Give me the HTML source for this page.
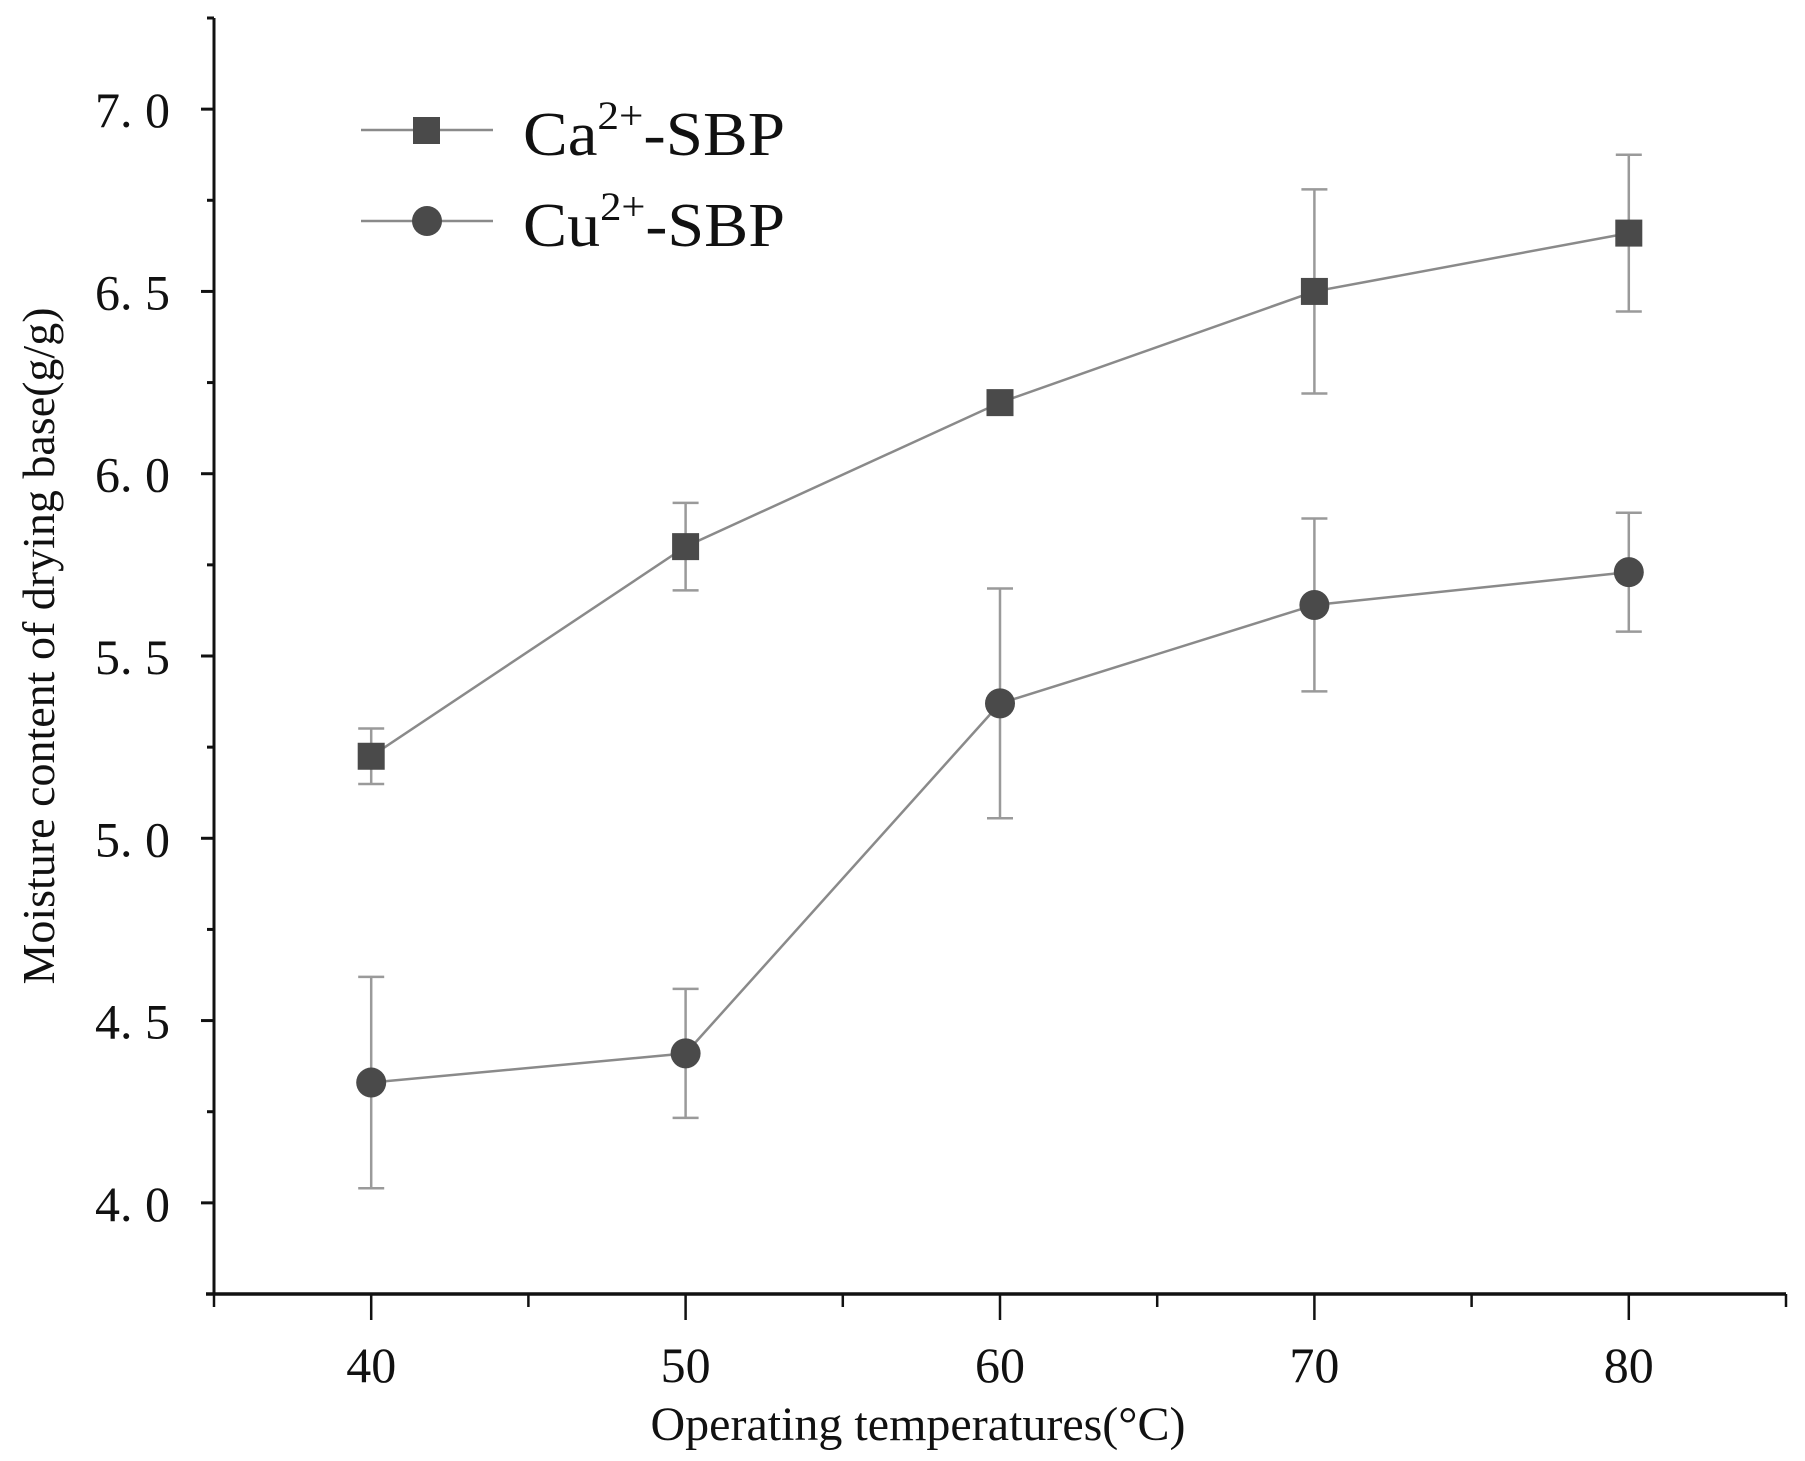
<!DOCTYPE html>
<html><head><meta charset="utf-8"><style>
html,body{margin:0;padding:0;background:#fff;}
svg{display:block;}
text{font-family:"Liberation Serif",serif;fill:#111;}
</style></head><body>
<svg id="chart" width="1805" height="1461" viewBox="0 0 1805 1461" xmlns="http://www.w3.org/2000/svg">
<g id="axes"></g>
<g id="series"></g>
<g id="legend">
  <line x1="361" y1="130" x2="493" y2="130" stroke="#8a8a8a" stroke-width="2.5"/>
  <rect x="413" y="117" width="27" height="27" fill="#4a4a4a"/>
  <text x="523" y="155" font-size="62" textLength="262" lengthAdjust="spacingAndGlyphs">Ca<tspan font-size="40" dy="-26">2+</tspan><tspan dy="26">-SBP</tspan></text>
  <line x1="361" y1="221" x2="493" y2="221" stroke="#8a8a8a" stroke-width="2.5"/>
  <circle cx="427" cy="221" r="15" fill="#4a4a4a"/>
  <text x="523" y="246" font-size="62" textLength="262" lengthAdjust="spacingAndGlyphs">Cu<tspan font-size="40" dy="-26">2+</tspan><tspan dy="26">-SBP</tspan></text>
</g>
<text x="918" y="1440" font-size="48" text-anchor="middle">Operating temperatures(°C)</text>
<text transform="translate(54,646) rotate(-90)" font-size="46" text-anchor="middle">Moisture content of drying base(g/g)</text>
</svg>
<script>
const categories = [40, 50, 60, 70, 80];
const caValues = [5.225, 5.80, 6.195, 6.50, 6.66];
const caErrors = [0.076, 0.12, 0.0, 0.28, 0.215];
const cuValues = [4.33, 4.41, 5.37, 5.64, 5.73];
const cuErrors = [0.29, 0.177, 0.315, 0.237, 0.163];
const yTicks = [4.0, 4.5, 5.0, 5.5, 6.0, 6.5, 7.0];
const yTickLabels = ["4. 0", "4. 5", "5. 0", "5. 5", "6. 0", "6. 5", "7. 0"];
const xTicks = [40, 50, 60, 70, 80];

const NS = "http://www.w3.org/2000/svg";
const X0 = 214, X1 = 1786, XMIN = 35, XMAX = 85;
const YB = 1294, YT = 18, YMIN = 3.75, YMAX = 7.25;
function sx(v){ return X0 + (v - XMIN) / (XMAX - XMIN) * (X1 - X0); }
function sy(v){ return YB - (v - YMIN) / (YMAX - YMIN) * (YB - YT); }
function mk(tag, attrs, parent){
  const e = document.createElementNS(NS, tag);
  for (const k in attrs) e.setAttribute(k, attrs[k]);
  parent.appendChild(e);
  return e;
}
const axes = document.getElementById('axes');
let el;
el = mk('line', {x1: X0, y1: YT, x2: X0, y2: YB, stroke: '#111', 'stroke-width': 3}, axes);


el = mk('line', {x1: X0 - 8, y1: YB, x2: X1, y2: YB, stroke: '#111', 'stroke-width': 3.5}, axes);


for (let v = YMIN; v <= YMAX + 1e-9; v += 0.25) {
  const major = Math.abs(v * 2 - Math.round(v * 2)) < 1e-6;
  el = mk('line', {x1: X0 - (major ? 13 : 7), y1: sy(v), x2: X0, y2: sy(v), stroke: '#111', 'stroke-width': 3}, axes);
  
  
}
yTicks.forEach((v, i) => {
  el = mk('text', {x: 170, y: sy(v) + 18, 'font-size': 50, 'text-anchor': 'end'}, axes);
  el.textContent = yTickLabels[i];
  
  
});
for (let v = XMIN; v <= XMAX; v += 5) {
  const major = v % 10 === 0;
  el = mk('line', {x1: sx(v), y1: YB, x2: sx(v), y2: YB + (major ? 26 : 13), stroke: '#111', 'stroke-width': 2.5}, axes);
  
  
}
xTicks.forEach(v => {
  el = mk('text', {x: sx(v), y: 1382, 'font-size': 50, 'text-anchor': 'middle'}, axes);
  el.textContent = String(v);
  
  
});
const series = document.getElementById('series');
function drawSeries(vals, errs, name, shape){
  const g = mk('g', {}, series);
  
  
  const pts = vals.map((v, i) => sx(categories[i]) + ',' + sy(v)).join(' ');
  el = mk('polyline', {points: pts, fill: 'none', stroke: '#8a8a8a', 'stroke-width': 2.5}, g);
  
  
  vals.forEach((v, i) => {
    const x = sx(categories[i]), e = errs[i];
    if (e > 0) {
      const eg = mk('g', {stroke: '#9a9a9a', 'stroke-width': 2.5}, g);
      
      
      mk('line', {x1: x, y1: sy(v + e), x2: x, y2: sy(v - e)}, eg);
      mk('line', {x1: x - 13, y1: sy(v + e), x2: x + 13, y2: sy(v + e)}, eg);
      mk('line', {x1: x - 13, y1: sy(v - e), x2: x + 13, y2: sy(v - e)}, eg);
    }
  });
  vals.forEach((v, i) => {
    const x = sx(categories[i]);
    if (shape === 'square') el = mk('rect', {x: x - 13.5, y: sy(v) - 13.5, width: 27, height: 27, fill: '#4a4a4a'}, g);
    else el = mk('circle', {cx: x, cy: sy(v), r: 15, fill: '#4a4a4a'}, g);
    
    
  });
}
drawSeries(caValues, caErrors, 'ca-sbp', 'square');
drawSeries(cuValues, cuErrors, 'cu-sbp', 'circle');
</script>
</body></html>
